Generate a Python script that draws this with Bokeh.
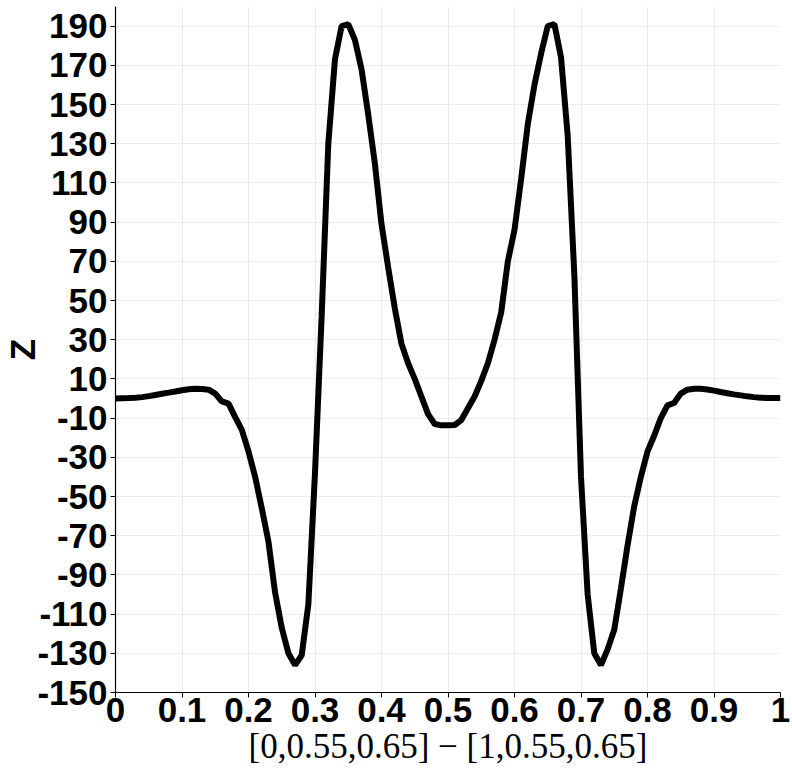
from bokeh.plotting import figure
from bokeh.models import Range1d, FixedTicker
from bokeh.embed import file_html
from bokeh.resources import INLINE

x_vals = [0.00, 0.01, 0.02, 0.03, 0.04, 0.05, 0.06, 0.07, 0.08, 0.09,
          0.10, 0.11, 0.12, 0.13, 0.14, 0.15, 0.16, 0.17, 0.18, 0.19,
          0.20, 0.21, 0.22, 0.23, 0.24, 0.25, 0.26, 0.27, 0.28, 0.29,
          0.30, 0.31, 0.32, 0.33, 0.34, 0.35, 0.36, 0.37, 0.38, 0.39,
          0.40, 0.41, 0.42, 0.43, 0.44, 0.45, 0.46, 0.47, 0.48, 0.49,
          0.50, 0.51, 0.52, 0.53, 0.54, 0.55, 0.56, 0.57, 0.58, 0.59,
          0.60, 0.61, 0.62, 0.63, 0.64, 0.65, 0.66, 0.67, 0.68, 0.69,
          0.70, 0.71, 0.72, 0.73, 0.74, 0.75, 0.76, 0.77, 0.78, 0.79,
          0.80, 0.81, 0.82, 0.83, 0.84, 0.85, 0.86, 0.87, 0.88, 0.89,
          0.90, 0.91, 0.92, 0.93, 0.94, 0.95, 0.96, 0.97, 0.98, 0.99,
          1.00]
z_vals = [0.0, 0.1, 0.2, 0.4, 0.7, 1.2, 1.8, 2.4, 3.0, 3.6,
          4.2, 4.7, 5.0, 4.9, 4.5, 2.5, -1.5, -2.6, -9.5, -16,
          -27, -40, -56, -73, -99, -117, -130, -136, -131, -105,
          -38, 42, 130, 173, 190, 191, 183, 168, 145, 120,
          89, 67, 46, 28, 18, 10, 1, -8, -13, -13.7,
          -13.7, -13.5, -11, -5, 1, 9, 18, 30, 44, 70,
          86, 112, 140, 160, 176, 190, 191, 174, 134, 63,
          -40, -100, -130, -136, -128, -118, -97, -75, -55, -40,
          -27, -19, -10, -3.5, -2.3, 2.5, 4.5, 5.0, 5.0, 4.6,
          4.0, 3.3, 2.7, 2.1, 1.6, 1.1, 0.7, 0.4, 0.3, 0.3,
          0.3]

x_ticks = [0, 0.1, 0.2, 0.3, 0.4, 0.5, 0.6, 0.7, 0.8, 0.9, 1]
x_tick_labels = ["0", "0.1", "0.2", "0.3", "0.4", "0.5", "0.6", "0.7", "0.8", "0.9", "1"]
y_ticks = [-150, -130, -110, -90, -70, -50, -30, -10, 10, 30, 50, 70, 90,
           110, 130, 150, 170, 190]
y_tick_labels = ["-150", "-130", "-110", "-90", "-70", "-50", "-30", "-10", "10",
                 "30", "50", "70", "90", "110", "130", "150", "170", "190"]
y_label = "Z"
x_label = "[0,0.55,0.65] \u2212 [1,0.55,0.65]"

W, H = 792, 771
p = figure(width=W, height=H, output_backend="svg", toolbar_location=None,
           x_range=Range1d(0, 1), y_range=Range1d(-150, 200),
           min_border_left=113, min_border_right=12, min_border_top=6,
           min_border_bottom=79)
p.outline_line_color = None
p.background_fill_color = "white"

p.line(x_vals, z_vals, line_color="black", line_width=6)

for ax in (p.xaxis[0], p.yaxis[0]):
    ax.axis_line_color = "black"
    ax.axis_line_width = 1.2
    ax.major_tick_line_color = "black"
    ax.major_tick_out = 5
    ax.major_tick_in = 0
    ax.minor_tick_line_color = None
    ax.major_label_text_font = "Liberation Sans"
    ax.major_label_text_font_style = "bold"
    ax.major_label_text_font_size = "35px"
    ax.major_label_text_color = "black"
    ax.axis_label_text_color = "black"

xa = p.xaxis[0]
xa.ticker = FixedTicker(ticks=x_ticks)
xa.major_label_overrides = {t: l for t, l in zip(x_ticks, x_tick_labels)}
xa.major_label_standoff = 0
xa.axis_label = x_label
xa.axis_label_text_font = "Liberation Serif"
xa.axis_label_text_font_style = "normal"
xa.axis_label_text_font_size = "35px"
xa.axis_label_standoff = 2

ya = p.yaxis[0]
ya.ticker = FixedTicker(ticks=y_ticks)
ya.major_label_overrides = {t: l for t, l in zip(y_ticks, y_tick_labels)}
ya.major_label_standoff = 3
ya.axis_label = y_label
ya.axis_label_text_font = "Liberation Sans"
ya.axis_label_text_font_style = "bold"
ya.axis_label_text_font_size = "35px"
ya.axis_label_standoff = -8

p.xgrid.grid_line_color = "#ececec"
p.ygrid.grid_line_color = "#ececec"
p.xgrid.ticker = FixedTicker(ticks=x_ticks)
p.ygrid.ticker = FixedTicker(ticks=y_ticks)

open("out.html", "w").write(file_html(p, INLINE))
